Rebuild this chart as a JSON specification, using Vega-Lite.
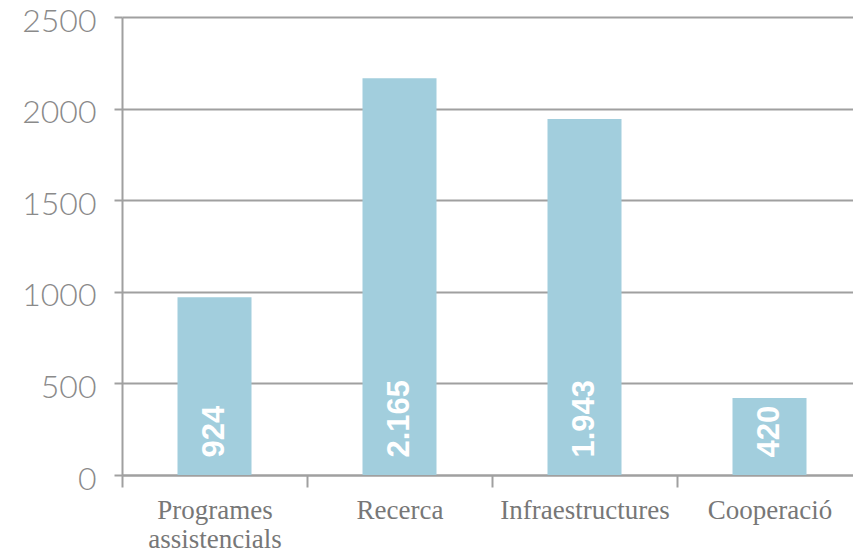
{
  "$schema": "https://vega.github.io/schema/vega-lite/v6.json",
  "autosize": "none",
  "width": 740,
  "height": 458,
  "padding": {"left": 122, "top": 17, "right": 0, "bottom": 78},
  "background": "white",
  "config": {"view": {"stroke": null}},
  "data": {"values": [
    {"categoria": "Programes assistencials", "valor": 970, "etiqueta": "924"},
    {"categoria": "Recerca", "valor": 2165, "etiqueta": "2.165"},
    {"categoria": "Infraestructures", "valor": 1943, "etiqueta": "1.943"},
    {"categoria": "Cooperació", "valor": 420, "etiqueta": "420"}
  ]},
  "encoding": {
    "x": {
      "field": "categoria", "type": "nominal", "sort": null,
      "scale": {"paddingInner": 0.6, "paddingOuter": 0.3},
      "axis": {
        "title": null, "labelAngle": 0, "tickOffset": -92.5, "labelOffset": 92.5,
        "labelFont": "Liberation Serif", "labelFontSize": 27, "labelColor": "#777777",
        "labelPadding": 10, "labelLineHeight": 29,
        "labelExpr": "datum.label == 'Programes assistencials' ? ['Programes', 'assistencials'] : datum.label",
        "domainColor": "#a0a0a0", "domainWidth": 2,
        "tickColor": "#a0a0a0", "tickWidth": 2, "tickSize": 12,
        "grid": false
      }
    }
  },
  "layer": [
    {
      "mark": {"type": "bar", "color": "#a2cedd"},
      "encoding": {
        "y": {
          "field": "valor", "type": "quantitative",
          "scale": {"domain": [0, 2500], "nice": false},
          "axis": {
            "title": null, "values": [0, 500, 1000, 1500, 2000, 2500], "format": "d",
            "labelFont": "Lato", "labelFontWeight": 300, "labelFontSize": 32, "labelColor": "#8a8a8a",
            "labelPadding": 18, "labelOffset": 4,
            "domainColor": "#a0a0a0", "domainWidth": 2,
            "tickColor": "#a0a0a0", "tickWidth": 2, "tickSize": 8,
            "gridColor": "#a0a0a0", "gridWidth": 2
          }
        }
      }
    },
    {
      "mark": {"type": "text", "angle": 270, "align": "left", "baseline": "middle",
               "color": "white", "font": "Liberation Sans", "fontWeight": "bold", "fontSize": 31},
      "encoding": {
        "text": {"field": "etiqueta"},
        "y": {"datum": 95, "type": "quantitative"}
      }
    }
  ]
}
